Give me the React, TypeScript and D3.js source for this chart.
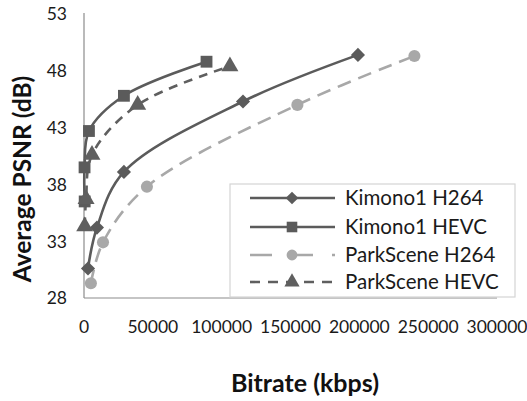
import { useEffect, useRef } from "react";
import * as d3 from "d3";

// bitrate (kbps) / PSNR (dB)
const kimonoH264Rate = [2900, 9400, 29000, 115500, 199000];
const kimonoH264Psnr = [30.6, 34.2, 39.1, 45.3, 49.4];
const kimonoHevcRate = [500, 400, 3600, 29000, 89000];
const kimonoHevcPsnr = [36.5, 39.5, 42.7, 45.8, 48.8];
const parkH264Rate = [5000, 13800, 45700, 155000, 240000];
const parkH264Psnr = [29.3, 32.9, 37.8, 45.0, 49.3];
const parkHevcRate = [500, 1500, 5800, 39000, 106000];
const parkHevcPsnr = [34.3, 36.7, 40.6, 45.0, 48.4];

const xTicks = [0, 50000, 100000, 150000, 200000, 250000, 300000];
const yTicks = [28, 33, 38, 43, 48, 53];

const seriesNames = ["Kimono1 H264", "Kimono1 HEVC", "ParkScene H264", "ParkScene HEVC"];

const FONT = "Lato, 'Open Sans', sans-serif";

export default function App() {
  const svgRef = useRef<SVGSVGElement>(null);

  useEffect(() => {
    if (!svgRef.current) return;
    const svg = d3.select(svgRef.current);
    svg.selectAll("*").remove();

    const width = 527;
    const height = 401;

    const x = d3.scaleLinear().domain([0, 300000]).range([84, 497]);
    const y = d3.scaleLinear().domain([28, 53]).range([298, 14]);

    const series = [
      { name: seriesNames[0], rate: kimonoH264Rate, psnr: kimonoH264Psnr, color: "#5b5b5b", dash: null, symbol: d3.symbolSquare, size: 100, rot: 45 },
      { name: seriesNames[1], rate: kimonoHevcRate, psnr: kimonoHevcPsnr, color: "#5b5b5b", dash: null, symbol: d3.symbolSquare, size: 140, rot: 0 },
      { name: seriesNames[2], rate: parkH264Rate, psnr: parkH264Psnr, color: "#a8a8a8", dash: "14,8", symbol: d3.symbolCircle, size: 115, rot: 0 },
      { name: seriesNames[3], rate: parkHevcRate, psnr: parkHevcPsnr, color: "#5f5f5f", dash: "9,7", symbol: d3.symbolTriangle, size: 125, rot: 0 },
    ];

    svg.attr("width", width).attr("height", height).style("background", "#fff");

    // axes lines
    svg.append("line")
      .attr("x1", x(0)).attr("x2", x(0))
      .attr("y1", 13).attr("y2", y(28))
      .attr("stroke", "#8c8c8c").attr("stroke-width", 1.2);
    svg.append("line")
      .attr("x1", x(0)).attr("x2", x(300000))
      .attr("y1", y(28)).attr("y2", y(28))
      .attr("stroke", "#8c8c8c").attr("stroke-width", 1.2);

    // tick labels
    svg.append("g")
      .selectAll("text")
      .data(yTicks)
      .enter()
      .append("text")
      .attr("x", 67)
      .attr("y", (d) => y(d))
      .attr("dy", "0.36em")
      .attr("text-anchor", "end")
      .attr("font-family", FONT)
      .attr("font-size", 17.5)
      .attr("fill", "#1a1a1a")
      .text((d) => d);

    svg.append("g")
      .selectAll("text")
      .data(xTicks)
      .enter()
      .append("text")
      .attr("x", (d) => x(d))
      .attr("y", 333)
      .attr("text-anchor", "middle")
      .attr("font-family", FONT)
      .attr("font-size", 17.5)
      .attr("fill", "#1a1a1a")
      .text((d) => d);

    // axis titles
    svg.append("text")
      .attr("x", 305)
      .attr("y", 392)
      .attr("text-anchor", "middle")
      .attr("font-family", FONT)
      .attr("font-weight", "bold")
      .attr("font-size", 25)
      .attr("fill", "#111")
      .text("Bitrate (kbps)");

    svg.append("text")
      .attr("transform", "translate(31,179) rotate(-90)")
      .attr("text-anchor", "middle")
      .attr("font-family", FONT)
      .attr("font-weight", "bold")
      .attr("font-size", 24.5)
      .attr("fill", "#111")
      .text("Average PSNR (dB)");

    // lines
    const line = d3
      .line<[number, number]>()
      .x((d) => x(d[0]))
      .y((d) => y(d[1]))
      .curve(d3.curveCatmullRom.alpha(0.5));

    series.forEach((s) => {
      const pts: [number, number][] = s.rate.map((r, i) => [r, s.psnr[i]]);
      svg.append("path")
        .attr("d", line(pts))
        .attr("fill", "none")
        .attr("stroke", s.color)
        .attr("stroke-width", 2.6)
        .attr("stroke-dasharray", s.dash);
    });

    series.forEach((s) => {
      svg.append("g")
        .selectAll("path")
        .data(s.rate.map((r, i) => [r, s.psnr[i]]))
        .enter()
        .append("path")
        .attr("transform", (d) => `translate(${x(d[0])},${y(d[1])}) rotate(${s.rot})`)
        .attr("d", d3.symbol().type(s.symbol).size(s.size)())
        .attr("fill", s.color);
    });

    // legend
    const legend = svg.append("g").attr("transform", "translate(230,184)");
    legend.append("rect")
      .attr("x", 0).attr("y", 0)
      .attr("width", 285).attr("height", 113)
      .attr("fill", "#fff")
      .attr("stroke", "#d4d4d4")
      .attr("stroke-width", 1.2);

    const rowY = [14, 43, 71, 98];
    series.forEach((s, i) => {
      const g = legend.append("g").attr("transform", `translate(0,${rowY[i]})`);
      g.append("line")
        .attr("x1", 20).attr("x2", 105)
        .attr("y1", 0).attr("y2", 0)
        .attr("stroke", s.color)
        .attr("stroke-width", 2.6)
        .attr("stroke-dasharray", s.dash ? (i === 2 ? "22,19" : "10,8") : null);
      g.append("path")
        .attr("transform", `translate(62,0) rotate(${s.rot})`)
        .attr("d", d3.symbol().type(s.symbol).size(s.size * 0.8)())
        .attr("fill", s.color);
      g.append("text")
        .attr("x", 115)
        .attr("y", 0)
        .attr("dy", "0.36em")
        .attr("font-family", FONT)
        .attr("font-size", 20.5)
        .attr("fill", "#1a1a1a")
        .text(s.name);
    });
  }, []);

  return <svg ref={svgRef} style={{ display: "block", position: "absolute", left: 0, top: 0 }}></svg>;
}
